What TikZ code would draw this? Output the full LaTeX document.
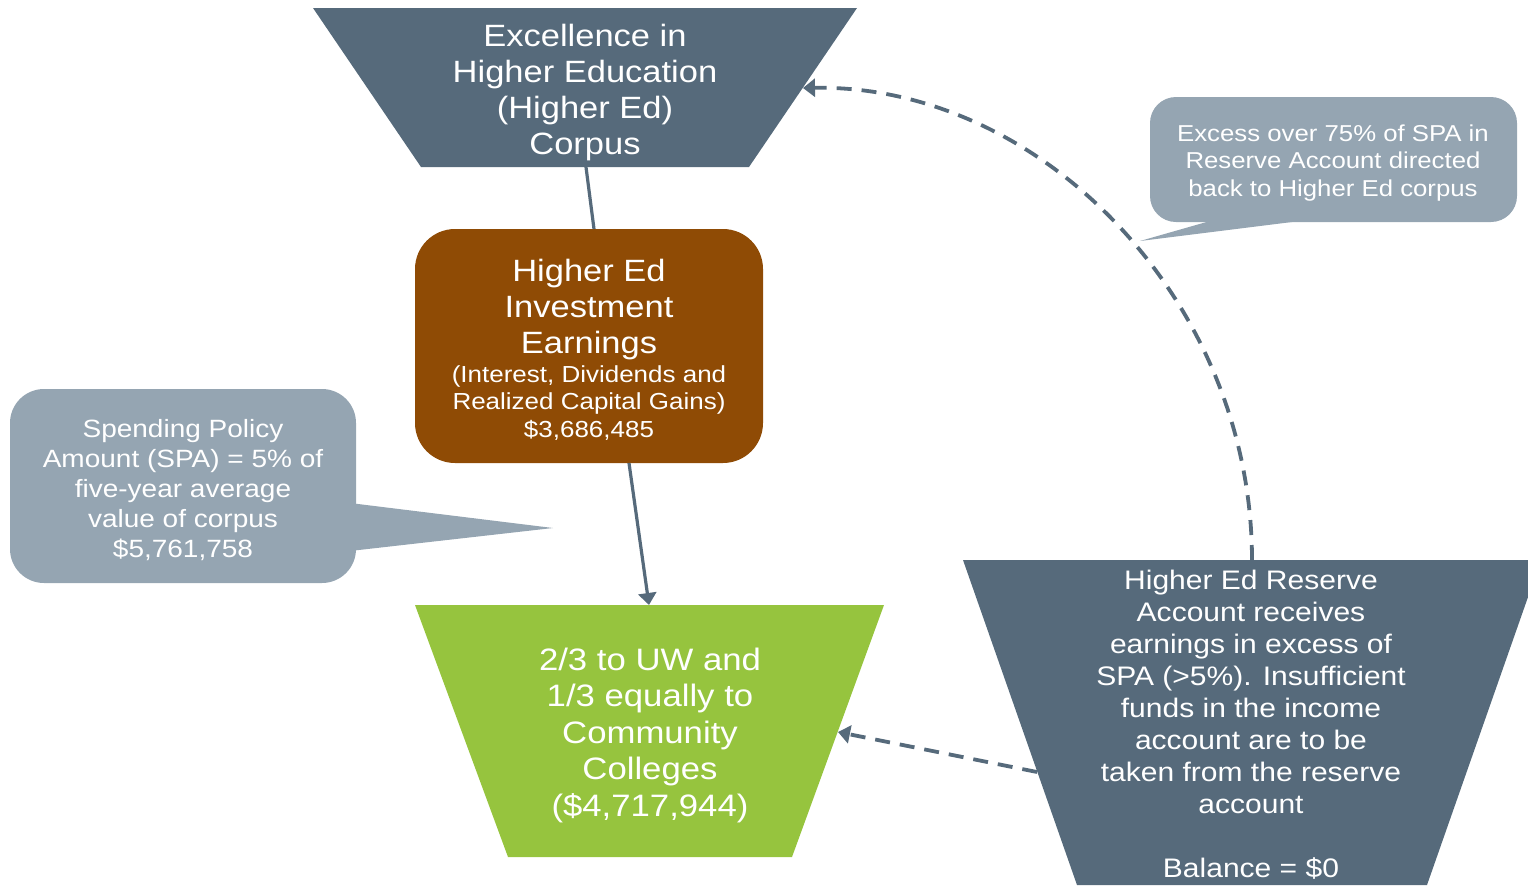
\documentclass[tikz,border=0pt]{standalone}
\usepackage{fontspec}
\setmainfont{Liberation Sans}[FakeStretch=1.12]
\usetikzlibrary{arrows.meta}
\definecolor{slate}{HTML}{566A7B}
\definecolor{earn}{HTML}{8F4B05}
\definecolor{dist}{HTML}{96C43E}
\definecolor{note}{HTML}{95A5B2}
\begin{document}
\begin{tikzpicture}[x=0.5pt,y=-0.5pt,
  conn/.style={draw=slate,line width=1.6pt},
  tipped/.style={-{Triangle[length=6pt,width=9pt]}},
  dashconn/.style={draw=slate,line width=1.9pt,dash pattern=on 7.5pt off 5pt},
  txt/.style={text=white,align=center,inner sep=0pt}]
\useasboundingbox (0,0) rectangle (1528,885);
\begin{scope}
\clip (0,0) rectangle (1528,885);
% shapes
\fill[slate] (313,8) -- (857,8) -- (749,167) -- (421,167) -- cycle;
\fill[earn,rounded corners=20pt] (415,229) rectangle (763,463);
\fill[dist] (415,605) -- (884,605) -- (792,857) -- (508,857) -- cycle;
\fill[slate] (963,560) -- (1541,560) -- (1427,885) -- (1077,885) -- cycle;
\fill[note,rounded corners=13pt] (1150,97) rectangle (1517,222);
\fill[note] (1210,221) -- (1300,221) -- (1140,241) -- cycle;
\fill[note,rounded corners=17pt] (10,389) rectangle (356,583);
\fill[note] (350,503) -- (553,528) -- (350,551) -- cycle;
% anchor coordinates
\coordinate (corpusB) at (586,167);
\coordinate (corpusR) at (803,88);
\coordinate (earnT) at (594,229);
\coordinate (earnB) at (629,463);
\coordinate (distT) at (649,605);
\coordinate (distR) at (838,732);
\coordinate (resT) at (1252,560);
\coordinate (resL) at (1037,772);
% connectors
\draw[conn] (corpusB) -- (earnT);
\draw[conn,tipped] (earnB) -- (distT);
\draw[dashconn,tipped] (resT) .. controls (1252,300) and (1040,84) .. (corpusR);
\draw[dashconn,tipped] (resL) -- (distR);
% texts
\node[txt,font=\fontsize{15.4}{18}\selectfont] (corpus) at (585,93)
  {Excellence in\\Higher Education\\(Higher Ed)\\Corpus};
\node[txt,font=\fontsize{15.4}{18}\selectfont] (earnA) at (589,310)
  {Higher Ed\\Investment\\Earnings};
\node[txt,font=\fontsize{11.6}{13.75}\selectfont] (earnC) at (589,403)
  {(Interest, Dividends and\\Realized Capital Gains)\\\$3,686,485};
\node[txt,font=\fontsize{15.5}{18.25}\selectfont] (dist) at (650,735)
  {2/3 to UW and\\1/3 equally to\\Community\\Colleges\\(\$4,717,944)};
\node[txt,font=\fontsize{13.4}{16}\selectfont] (res) at (1251,725)
  {Higher Ed Reserve\\Account receives\\earnings in excess of\\SPA (>5\%). Insufficient\\funds in the income\\account are to be\\taken from the reserve\\account\\[16pt]Balance = \$0};
\node[txt,font=\fontsize{12.5}{15}\selectfont] (spa) at (183,490)
  {Spending Policy\\Amount (SPA) = 5\% of\\five-year average\\value of corpus\\\$5,761,758};
\node[txt,font=\fontsize{11.5}{13.75}\selectfont] (excess) at (1333,163)
  {Excess over 75\% of SPA in\\Reserve Account directed\\back to Higher Ed corpus};
\end{scope}
\end{tikzpicture}
\end{document}
